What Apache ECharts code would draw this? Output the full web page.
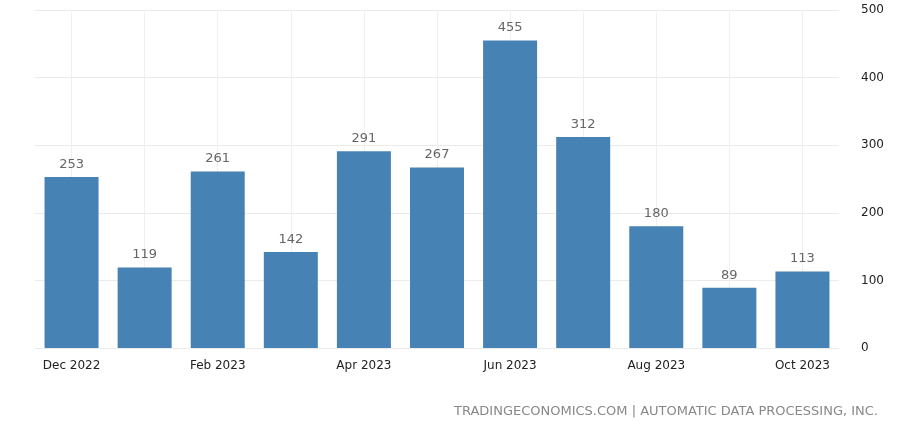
<!DOCTYPE html>
<html><head><meta charset="utf-8">
<script src="https://cdn.jsdelivr.net/npm/echarts@6/dist/echarts.min.js"></script>
<style>html,body{margin:0;padding:0;background:#fff}#c{width:900px;height:426px}</style>
</head><body><div id="c"></div>
<script>
const categories = ['Dec 2022','Jan 2023','Feb 2023','Mar 2023','Apr 2023','May 2023','Jun 2023','Jul 2023','Aug 2023','Sep 2023','Oct 2023'];
const values = [253,119,261,142,291,267,455,312,180,89,113];
const yTicks = [0,100,200,300,400,500];
const chart = echarts.init(document.getElementById('c'));
chart.setOption({
  animation:false,
  grid:{left:35,right:61,top:10,bottom:78},
  xAxis:{type:'category',data:categories,
    axisLine:{show:false},axisTick:{show:false},
    axisLabel:{color:'#222',fontSize:12,fontFamily:'DejaVu Sans',margin:8,lineHeight:20,
      formatter:(v,i)=> i%2 ? '\n'+v : v}},
  yAxis:{type:'value',position:'right',min:yTicks[0],max:yTicks[yTicks.length-1],interval:100,
    axisLabel:{color:'#222',fontSize:12,fontFamily:'DejaVu Sans',margin:22},
    splitLine:{lineStyle:{color:'#ebebeb'}}},
  graphic:[{type:'text',right:22,top:405,style:{text:'TRADINGECONOMICS.COM | AUTOMATIC DATA PROCESSING, INC.',fill:'#888',font:'13px DejaVu Sans'}}],
  series:[{type:'bar',data:values,barWidth:54,itemStyle:{color:'#4682b4'},
    label:{show:true,position:'top',color:'#666',fontSize:13,fontFamily:'DejaVu Sans',distance:6},
    markLine:{silent:true,symbol:'none',label:{show:false},z:0,
      lineStyle:{color:'#f0f0f0',type:'solid',width:1},
      data:categories.map(c=>({xAxis:c}))}}]
});
</script></body></html>
